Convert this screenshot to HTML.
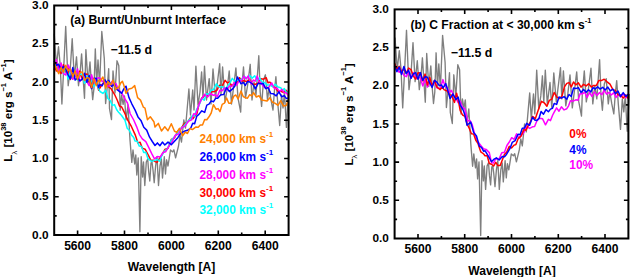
<!DOCTYPE html>
<html><head><meta charset="utf-8"><style>
html,body{margin:0;padding:0;background:#fff;width:630px;height:277px;overflow:hidden}
body{position:relative}
</style></head><body>
<svg width="630" height="277" viewBox="0 0 630 277" style="position:absolute;left:0;top:0">
<g font-family="Liberation Sans, sans-serif" font-weight="bold" font-size="11.3" fill="#000">
<g fill="none" stroke-linejoin="round" stroke-width="1.5">
<path d="M54.2 33.7 L56.4 65.8 L58.5 46.7 L60.2 65 L61.9 104 L63.8 66.3 L65.7 26.4 L68.2 85.7 L70.2 69.8 L72.2 38.7 L74.3 77.7 L76.5 56.8 L78.5 85.7 L80 74 L81.6 53.9 L83 76.8 L84.5 98.3 L85.9 49.6 L88 82.5 L90 62 L91.3 82.2 L92.7 99.6 L94 88.1 L95.3 48.9 L96.7 83.8 L98 60 L99.6 84.8 L101.8 31.5 L104.3 58.6 L105.6 103.6 L107.2 87.4 L108.7 68.7 L109.5 108.6 L111.5 119.6 L113 70.9 L115 93 L117 60.8 L118.8 65.8 L120.2 110.2 L121.6 95 L123.1 104.4 L124.5 96 L126 120 L128 105 L130 140 L131.8 162.4 L133 150 L134.7 164 L135.8 155 L136.8 175 L138.2 158 L139.9 231.7 L141.2 156.7 L142.6 177 L143.5 162 L144.8 185.5 L146.3 162 L147.7 159 L148.7 172 L149.8 181 L151 163 L152 162 L153 170 L154.2 182.7 L155.6 166 L157 156.7 L158.5 185.5 L160 166 L161.4 159 L162.5 178 L164.3 156.7 L165.5 174 L166.6 159.8 L168 166 L170.5 150 L172.6 151.9 L173.9 149.8 L175.6 157.9 L178.5 146 L180 135 L181.5 142 L183.8 120 L185.5 128 L188.9 89 L190.5 115 L192.7 90 L194 110 L195.9 66.2 L198 105 L200 92 L201.6 71.9 L203 98 L204.5 66.2 L206.5 100 L209.2 78.6 L211 104 L213 69 L215.5 98 L217 86 L219.7 63.7 L221 95 L222.6 67 L225 102 L227 90 L229.2 71 L231.5 104 L233.5 88 L235.9 68 L238 98 L240.7 112.1 L241.5 90 L243.5 67 L245.5 98 L247.5 86 L250.2 64.3 L252 100 L254 82 L256 95 L258.8 55.7 L260.2 92 L261.6 106.4 L263.5 80 L265.4 74.8 L267.5 100 L269 88 L271 100 L273 110 L274.5 90 L275.9 76.7 L277.5 100 L279.7 125.5 L281.5 95 L283 108 L284.5 92 L286.4 127.4 L288.5 90" stroke="#7f7f7f" stroke-width="1.35"/>
<path d="M54 64.4 L56.4 71 L58.7 65.8 L61.1 73.6 L63.4 64.7 L65.8 71.9 L68.1 68.5 L70.4 79.6 L72.8 73.3 L75.1 72.3 L77.5 78.1 L79.8 71.1 L82.2 79.6 L84.5 74.6 L86.9 74 L89.2 82.4 L91.6 88.4 L93.9 78.6 L96.3 80 L98.6 90.2 L102 84.5 L105 81.7 L106.8 81.9 L108.7 86.9 L111 88.6 L114.5 94.3 L117.3 100.2 L119.5 106.1 L121.7 107 L125 113.7 L127.9 120.4 L131.5 126.7 L135.1 134.6 L137.9 142.9 L140.1 142.3 L142.2 148.1 L145.1 149.2 L148 154.5 L150.9 160.4 L153.1 160.2 L155.2 161.6 L157 162.4 L158.8 159.5 L161.7 155.4 L164.8 149.5 L168 148.2 L171.3 139.5 L174.5 137.8 L177.8 131 L181 128.5 L184.3 123.8 L187.5 122.3 L190.8 117.2 L192.9 118.7 L195 115.9 L196.9 113.6 L198.9 104.6 L201.8 97.8 L204.7 95.6 L207.6 96.6 L209.8 92.5 L212 91.8 L215 91.4 L217.2 89.9 L219.3 85.3 L222.2 85.9 L225.1 80.3 L227.2 82.9 L229.4 81.9 L231.6 85.6 L233.8 84 L236.7 82.5 L239.5 77.7 L241.7 81 L243.9 80.8 L246.8 81.4 L249.7 79.7 L252.6 84.3 L255.4 84.2 L258.1 83.3 L260.8 78.7 L263.5 79.2 L266.2 77.7 L268 82.8 L269.9 82.1 L272.6 86.3 L275.3 87.8 L278 91.2 L280.7 91.2 L283.4 92.4 L286.1 90.2 L288.5 94.3" stroke="#ff0000"/>
<path d="M54 63.9 L56.4 66.9 L58.7 72.2 L61.1 68.6 L63.4 74 L65.8 67.7 L68.1 79.4 L70.4 71 L72.8 78.5 L75.1 73 L77.5 80 L79.8 74.1 L82.2 74.2 L84.5 83.2 L86.9 75.7 L89.2 80.4 L91.6 80.4 L93.9 86.3 L96.3 81.9 L98.6 88.6 L100 91.5 L102.9 93.4 L105.8 90.3 L107.9 98.5 L110.1 100.3 L112.3 105.4 L114.5 104.6 L116.7 109.8 L118.8 112.6 L121.6 115.5 L125 120.4 L127.2 128.2 L129.3 130.2 L131.5 134.9 L133.7 137.5 L135 140.9 L137.2 141.3 L139.3 146.1 L141.5 146.6 L143.7 152.6 L145.8 152.3 L148 158.7 L151.6 161.4 L155.2 160.1 L157.4 159.5 L159.6 161.1 L161.9 155.3 L164.3 151.3 L167.5 148.5 L170.8 141 L174 137.2 L177.3 133.4 L180.5 128.5 L183.8 126.1 L187 122.3 L190.3 118.8 L192.4 115.4 L194.5 116.1 L196.7 109.1 L198.9 105.8 L201.8 98.2 L204.2 100.3 L206.5 93.8 L208.9 94.5 L211.1 90.1 L213.2 90 L216.4 83.9 L219.3 87.3 L221.7 86.3 L224.2 88.7 L226.6 87.4 L229.4 83.9 L232.3 78.4 L235.2 81.6 L238.1 80.1 L241 79.8 L243.9 76.4 L246.8 78 L249.7 75.5 L252.2 78.1 L254.7 75.8 L257.2 80.4 L259.6 77.8 L262 82.4 L264.4 82.4 L267.1 84.9 L269.9 85 L272.6 86.7 L275.3 84.2 L278 87.1 L280.7 87.8 L282.5 90.2 L284.3 88.6 L286.4 92.5 L288.5 92.5" stroke="#00ffff"/>
<path d="M54 70.2 L56.4 59.6 L58.7 71.4 L61.1 63 L63.4 73.6 L65.8 75 L68.1 64.9 L70.4 69.6 L72.8 79.2 L75.1 76.7 L77.5 68.7 L79.8 81.5 L82.2 78.6 L84.5 75.8 L86.9 81.6 L89.2 85.7 L91.6 74.8 L93.9 83.5 L96.3 78.4 L98.6 77.8 L100 78.2 L102.2 81.7 L104.3 80 L106.2 85.9 L108 86.1 L110 85.7 L112 81.2 L114 85.6 L115.9 83.6 L118.8 90.4 L121.7 92.8 L124.6 98.3 L127.5 103 L130.1 113.5 L133.7 120 L136.6 126.6 L139.5 134.6 L142.3 138.8 L145.8 141.6 L148.7 147.4 L151.6 153.3 L154.5 158.8 L157.4 156.6 L160.3 156.9 L163 152.5 L165.6 151.8 L168.8 146.3 L172.1 141.8 L175.3 135.2 L178.6 134 L181.8 127.6 L185.1 126.1 L188.3 121.2 L191.6 119.9 L193.7 113.7 L195.8 114.3 L198.9 104.6 L201.8 98.5 L204.7 94.2 L207.6 97 L210.5 93.5 L213.4 95.3 L215 94.8 L217.4 96.6 L219.8 90.2 L222.2 90.7 L224.6 87.8 L227 89.9 L229.4 86 L231.8 86.6 L234.3 82.6 L236.7 85.1 L239.1 80.6 L241.5 80.7 L243.9 76.2 L246.1 79 L248.2 75.9 L251.1 84 L253.1 80 L255.2 81.2 L257.2 75.9 L259 81.7 L260.8 82.5 L263.5 86.5 L266.2 87.9 L268.9 87.1 L271.7 82.8 L274.4 88.5 L277.1 88.2 L279.5 91.7 L281.9 89.4 L284.3 92.7 L286.4 92.8 L288.5 96.1" stroke="#ff00ff"/>
<path d="M54 61 L56.4 65.3 L58.7 64.2 L61.1 69.8 L63.4 66.4 L65.8 69.2 L68.1 74.9 L70.4 78.9 L72.8 67.6 L75.1 80.1 L77.5 77.8 L79.8 80.8 L82.2 79.3 L84.5 73.3 L86.9 82.2 L89.2 75.5 L91.6 88.6 L93.9 78.4 L96.3 78.2 L98.6 87.5 L100 84.6 L102.2 85.8 L105 79.9 L106.8 82.7 L108.7 80.4 L111.6 86.3 L114.5 84.2 L116.7 89.3 L118.8 90.9 L121.7 93.3 L123.8 88.9 L126 86.2 L128.9 97.4 L131.8 103.8 L135.1 110.1 L138 116.9 L140.9 120.4 L143.8 127.3 L146.7 130.1 L149.6 137.2 L152.3 141.5 L155 145.5 L157.4 142.9 L159.9 145.7 L162.4 142.1 L164.8 145 L168 142.1 L171.3 144.7 L174.5 141.3 L177.8 137.7 L181 132.9 L184.3 131.3 L187.5 130.3 L190.8 128 L192.7 123.3 L194.6 123.7 L196.8 116.1 L198.9 114.4 L201.8 110.8 L204.7 112.4 L206.8 105.1 L209 104.1 L211.2 100.9 L213.4 101.8 L215.6 98.3 L217.7 98.2 L220.8 94.8 L223.7 94.5 L226.6 87.7 L229.4 91.6 L232.3 89.2 L234.9 86 L237.4 76.9 L241 83.8 L243.2 82.4 L245.3 85.4 L247.5 81.5 L249.7 82 L252.6 84 L255.4 88.9 L258.1 83.3 L260.8 83.7 L263.2 83.4 L265.6 88.6 L268 87.5 L270.8 93.5 L273.5 93.8 L276.2 95.9 L278.9 91.8 L281.6 96.7 L284.3 95.7 L286.4 98.6 L288.5 97.9" stroke="#0000ff"/>
<path d="M54 62.9 L56.4 68.4 L58.7 73.6 L61.1 67.6 L63.4 72.2 L65.8 65.2 L68.1 70.6 L70.4 69.1 L72.8 76.8 L75.1 70.9 L77.5 79.4 L79.8 72.6 L82.2 71.9 L84.5 80.5 L86.9 77.4 L89.2 78.2 L91.6 87.6 L93.9 78.6 L96.3 85.8 L98.6 80.2 L100 81.3 L102.9 77 L105.8 88 L107.9 81.4 L110.8 84.8 L113 80.2 L115.9 89.2 L118.8 87.1 L120.6 83.1 L122.4 81.3 L123.8 85 L126 93.3 L128.9 88.9 L131.8 88.2 L134.7 85.6 L137.6 97.7 L140.5 100.1 L143.4 107.2 L145 108.1 L147.4 119.7 L150.3 116.8 L153.9 121.7 L155 127 L158.3 123.4 L161.5 131 L164.8 126.8 L168 130.7 L171.3 123.8 L174.5 131.2 L176.9 132.3 L179.4 128.3 L182.6 135.8 L185.1 132.2 L187.5 133.5 L189.9 128.5 L192.4 129.6 L196 126.9 L198.2 127.3 L200.3 124.9 L202.5 125.1 L204.7 119.5 L206.8 119.7 L209 116.8 L211.2 113 L213.4 104.7 L216.2 109.3 L218.1 108.6 L220 111.6 L222.2 104.4 L224.4 103.2 L226.6 98 L228.8 103.2 L230.9 103.2 L233.8 96.1 L235.9 95 L238.1 99 L241 91.1 L243.2 96.5 L245.3 97.7 L247.5 98.2 L249.7 94.7 L251.6 95.8 L253.6 92.6 L256.3 97 L259 95.7 L261.7 100 L264.4 100.4 L267.1 101 L269.9 97.8 L272.6 102.3 L275.3 103.4 L278 105.3 L280.7 100.7 L283.4 105.9 L286.1 105.6 L288.5 100" stroke="#ff7f00"/>
<path d="M395 37.6 L397.2 69.7 L399.3 50.6 L401 68.9 L402.7 107.9 L404.6 70.2 L406.5 30.3 L409 89.6 L411 73.7 L413 42.6 L415.1 81.6 L417.3 60.7 L419.3 89.6 L420.9 77.9 L422.4 57.8 L423.9 80.7 L425.3 102.2 L426.7 53.5 L428.8 86.4 L430.8 65.9 L432.1 86.1 L433.5 103.5 L434.8 92 L436.1 52.8 L437.5 87.7 L438.8 63.9 L440.4 88.7 L442.6 35.4 L445.1 62.5 L446.4 107.5 L448 91.3 L449.5 72.6 L450.3 112.5 L452.3 123.5 L453.8 74.8 L455.8 96.9 L457.8 64.7 L459.6 69.7 L461 114.1 L462.4 98.9 L463.9 108.3 L465.3 99.9 L466.8 123.9 L468.8 108.9 L470.8 143.9 L472.6 166.3 L473.8 153.9 L475.5 167.9 L476.6 158.9 L477.6 178.9 L479 161.9 L480.7 235.6 L482 160.6 L483.4 180.9 L484.3 165.9 L485.6 189.4 L487.1 165.9 L488.5 162.9 L489.5 175.9 L490.6 184.9 L491.8 166.9 L492.8 165.9 L493.8 173.9 L495 186.6 L496.4 169.9 L497.8 160.6 L499.3 189.4 L500.8 169.9 L502.2 162.9 L503.3 181.9 L505.1 160.6 L506.3 177.9 L507.4 163.7 L508.8 169.9 L511.3 153.9 L513.4 155.8 L514.7 153.7 L516.4 161.8 L519.3 149.9 L520.8 138.9 L522.3 145.9 L524.6 123.9 L526.3 131.9 L529.7 92.9 L531.3 118.9 L533.5 93.9 L534.8 113.9 L536.7 70.1 L538.8 108.9 L540.8 95.9 L542.4 75.8 L543.8 101.9 L545.3 70.1 L547.3 103.9 L550 82.5 L551.8 107.9 L553.8 72.9 L556.3 101.9 L557.8 89.9 L560.5 67.6 L561.8 98.9 L563.4 70.9 L565.8 105.9 L567.8 93.9 L570 74.9 L572.3 107.9 L574.3 91.9 L576.7 71.9 L578.8 101.9 L581.5 116 L582.3 93.9 L584.3 70.9 L586.3 101.9 L588.3 89.9 L591 68.2 L592.8 103.9 L594.8 85.9 L596.8 98.9 L599.6 59.6 L601 95.9 L602.4 110.3 L604.3 83.9 L606.2 78.7 L608.3 103.9 L609.8 91.9 L611.8 103.9 L613.8 113.9 L615.3 93.9 L616.7 80.6 L618.3 103.9 L620.5 129.4 L622.3 98.9 L623.8 111.9 L625.3 95.9 L627.2 131.3 L629.3 93.9" stroke="#7f7f7f" stroke-width="1.35"/>
<path d="M394.5 65.5 L396.9 68.5 L399.2 72.3 L401.6 70.6 L403.9 75.3 L406.3 76.6 L408.6 72.3 L411 77.9 L413.3 72.7 L415.7 78.8 L418 77.6 L420.4 77.8 L422.7 85.9 L425.1 79.4 L427.4 87.1 L429.8 81.5 L432.1 86 L434.5 80.7 L436.8 87.7 L440.2 88.7 L442.9 79.6 L445 86.2 L447.2 87.5 L449.4 92.4 L451.5 90.4 L453.7 96.1 L455.9 97.8 L458.1 102.8 L460.2 101.1 L462.4 107.4 L464.6 108.4 L467.8 121 L470 120.5 L472.1 124.4 L475 135.3 L477.9 141.8 L480.8 145.5 L483.5 148.8 L486.1 149.4 L489.3 152.6 L491.5 162.7 L493.6 162.9 L495.8 158.7 L499.1 158.9 L501.8 152.7 L504.5 152.2 L506.9 145.5 L509.3 142 L511.7 137.7 L514.2 139.3 L516.6 133.9 L518.8 138.1 L520.9 136 L523.8 132.4 L526.7 126.2 L529.6 128.4 L532.5 126.8 L534.6 126.5 L536.8 121 L539.7 118.2 L542.6 118.8 L545.5 124.8 L548.4 119.3 L550.5 120.6 L552.7 115 L554.2 112.2 L556.6 107.9 L559 111.2 L561.4 106.8 L564.1 109.9 L566.8 108.7 L568.6 105.8 L570.4 100.7 L573.1 101.2 L575.8 99.8 L578 100.2 L580.2 93.5 L582.4 93.9 L584.8 92.2 L587.1 97.5 L589.5 92.5 L591.9 96.3 L594.4 91.9 L597 95.4 L599.5 92.6 L601.9 94.7 L604.2 90 L606.6 94.1 L609 92.4 L611.3 95 L613.6 92.7 L615.9 97.5 L618.2 94.3 L620.5 96.9 L623.2 94 L625.8 97.8 L628.5 96" stroke="#ff00ff"/>
<path d="M394.5 63.1 L396.9 69.1 L399.2 66.4 L401.6 71.9 L403.9 69 L406.3 73.3 L408.6 68.1 L411 69.6 L413.3 76.1 L415.7 79.1 L418 72.8 L420.4 73.1 L422.7 80.7 L425.1 74.1 L427.4 85 L429.8 77.5 L432.1 86.4 L434.5 80.5 L436.8 87 L440.2 89.6 L442.2 87.1 L444.3 89.9 L447.2 91 L449.4 94.7 L451.6 95.3 L454.5 102.4 L456.6 93.2 L458.8 102.9 L460.2 110.6 L462.6 115 L465 116.3 L467.1 124.1 L469.2 128.2 L471.4 133.7 L473.6 133.9 L475.8 140.3 L477.9 143.2 L480.8 151.9 L483.7 154 L485 155.7 L487.2 155.8 L489.3 163.5 L491.5 164.2 L493.6 166 L495.8 162.4 L498 165.6 L500.2 165.5 L502.3 160 L504.5 154.2 L506.6 152.4 L509.3 146.4 L511.5 147.9 L513.7 145.4 L515.9 144.5 L518 138.9 L520.9 136.1 L523.8 129.6 L526 130.2 L528.1 125.9 L530.3 122.2 L532.5 116.4 L535.3 118.7 L538.2 110.3 L541.5 101.3 L544.2 102.8 L546.9 106.3 L549.3 100.4 L551.8 99.1 L554.2 92.5 L556.9 97.2 L559.6 98.6 L562 96.1 L564.4 86.9 L566.8 83.4 L569 82.6 L571.3 86.9 L573.5 82 L575.8 84.9 L578.4 82.8 L581 87.2 L583.6 84.3 L586.2 85.9 L588.7 83.7 L591.3 87 L593.8 85.4 L596.3 85.5 L598.9 80.4 L601.4 80.6 L604.2 79.2 L607.1 81.8 L610 84.2 L612.9 89.6 L615.4 90.4 L618 94.8 L620.5 95 L623.2 98.1 L625.8 94.9 L628.5 98.8" stroke="#ff0000"/>
<path d="M394.5 65.8 L396.9 71.7 L399.2 67.2 L401.6 74.4 L403.9 66.5 L406.3 73.7 L408.6 70.1 L411 78.4 L413.3 74 L415.7 72.7 L418 79.3 L420.4 72.6 L422.7 80.3 L425.1 76.7 L427.4 77.2 L429.8 83.2 L432.1 87.5 L434.5 80.3 L436.8 82.1 L439.3 85.6 L441.7 85.1 L442.9 88 L445.8 83.6 L448.7 93.6 L450.1 98.5 L453 93.9 L455.9 99.6 L458.1 97 L460.2 105.1 L463.1 109.8 L464.9 115.1 L467.1 125.3 L470.7 122 L473.6 132.4 L476.5 136 L479.3 146.1 L481.5 147.4 L483.7 151.4 L485 150.7 L488.2 155.9 L491.5 161.7 L493.7 159.4 L496.4 157.8 L499.1 160 L502.3 156.5 L504.5 156.8 L506.6 154.2 L509.9 148.7 L512.2 142.4 L515.1 140.7 L518 134.3 L520.1 134.7 L522.3 128.2 L524.5 127.9 L526.7 123.4 L529.6 125.3 L532.5 117.2 L534.6 119.9 L536.8 120.4 L539 118.3 L541.1 111.5 L543.5 114.2 L546 109.6 L548.4 111.7 L550.5 109.1 L552.4 108.4 L554.2 103.4 L556.6 104.4 L559 97 L561.4 98.1 L564.1 96.6 L566.8 99.2 L569 94.5 L571.3 96.4 L573.5 88.1 L575.8 88.6 L578.4 87.6 L581 92.5 L583.6 89.4 L586.2 92.3 L588.5 89.7 L590.8 91.9 L593 87.7 L595.3 89 L597.6 86.8 L600.1 89.1 L602.7 87.3 L605.2 90 L607.8 87.1 L610.3 90.9 L612.9 89.2 L615.4 93.7 L618 91 L620.5 96.5 L623.2 92.6 L625.8 96.4 L628.5 94.1" stroke="#0000ff"/>
</g>
<rect x="54.2" y="5.5" width="234.4" height="229.5" fill="none" stroke="#000" stroke-width="2"/>
<path d="M77.6 235v-4.5M77.6 5.5v4.5M101.1 235v-2.5M101.1 5.5v2.5M124.5 235v-4.5M124.5 5.5v4.5M148 235v-2.5M148 5.5v2.5M171.4 235v-4.5M171.4 5.5v4.5M194.8 235v-2.5M194.8 5.5v2.5M218.3 235v-4.5M218.3 5.5v4.5M241.7 235v-2.5M241.7 5.5v2.5M265.2 235v-4.5M265.2 5.5v4.5M54.2 215.9h2.5M288.6 215.9h-2.5M54.2 196.8h4.5M288.6 196.8h-4.5M54.2 177.6h2.5M288.6 177.6h-2.5M54.2 158.5h4.5M288.6 158.5h-4.5M54.2 139.4h2.5M288.6 139.4h-2.5M54.2 120.2h4.5M288.6 120.2h-4.5M54.2 101.1h2.5M288.6 101.1h-2.5M54.2 82h4.5M288.6 82h-4.5M54.2 62.9h2.5M288.6 62.9h-2.5M54.2 43.8h4.5M288.6 43.8h-4.5M54.2 24.6h2.5M288.6 24.6h-2.5" stroke="#000" stroke-width="1.6" fill="none"/>
<rect x="394.6" y="9.4" width="233.8" height="229.1" fill="none" stroke="#000" stroke-width="2"/>
<path d="M418 238.5v-4.5M418 9.4v4.5M441.4 238.5v-2.5M441.4 9.4v2.5M464.7 238.5v-4.5M464.7 9.4v4.5M488.1 238.5v-2.5M488.1 9.4v2.5M511.5 238.5v-4.5M511.5 9.4v4.5M534.9 238.5v-2.5M534.9 9.4v2.5M558.3 238.5v-4.5M558.3 9.4v4.5M581.6 238.5v-2.5M581.6 9.4v2.5M605 238.5v-4.5M605 9.4v4.5M394.6 219.4h2.5M628.4 219.4h-2.5M394.6 200.3h4.5M628.4 200.3h-4.5M394.6 181.2h2.5M628.4 181.2h-2.5M394.6 162.1h4.5M628.4 162.1h-4.5M394.6 143h2.5M628.4 143h-2.5M394.6 124h4.5M628.4 124h-4.5M394.6 104.9h2.5M628.4 104.9h-2.5M394.6 85.8h4.5M628.4 85.8h-4.5M394.6 66.7h2.5M628.4 66.7h-2.5M394.6 47.6h4.5M628.4 47.6h-4.5M394.6 28.5h2.5M628.4 28.5h-2.5" stroke="#000" stroke-width="1.6" fill="none"/>
<text x="77.6" y="249.8" text-anchor="middle" font-size="12.1">5600</text>
<text x="124.5" y="249.8" text-anchor="middle" font-size="12.1">5800</text>
<text x="171.4" y="249.8" text-anchor="middle" font-size="12.1">6000</text>
<text x="218.3" y="249.8" text-anchor="middle" font-size="12.1">6200</text>
<text x="265.2" y="249.8" text-anchor="middle" font-size="12.1">6400</text>
<text x="48.5" y="238.6" text-anchor="end" font-size="11.8">0.0</text>
<text x="48.5" y="200.3" text-anchor="end" font-size="11.8">0.5</text>
<text x="48.5" y="162.1" text-anchor="end" font-size="11.8">1.0</text>
<text x="48.5" y="123.8" text-anchor="end" font-size="11.8">1.5</text>
<text x="48.5" y="85.6" text-anchor="end" font-size="11.8">2.0</text>
<text x="48.5" y="47.4" text-anchor="end" font-size="11.8">2.5</text>
<text x="48.5" y="9.1" text-anchor="end" font-size="11.8">3.0</text>
<text x="418" y="253.3" text-anchor="middle" font-size="12.1">5600</text>
<text x="464.7" y="253.3" text-anchor="middle" font-size="12.1">5800</text>
<text x="511.5" y="253.3" text-anchor="middle" font-size="12.1">6000</text>
<text x="558.3" y="253.3" text-anchor="middle" font-size="12.1">6200</text>
<text x="605" y="253.3" text-anchor="middle" font-size="12.1">6400</text>
<text x="388.9" y="242.1" text-anchor="end" font-size="11.8">0.0</text>
<text x="388.9" y="203.9" text-anchor="end" font-size="11.8">0.5</text>
<text x="388.9" y="165.7" text-anchor="end" font-size="11.8">1.0</text>
<text x="388.9" y="127.5" text-anchor="end" font-size="11.8">1.5</text>
<text x="388.9" y="89.4" text-anchor="end" font-size="11.8">2.0</text>
<text x="388.9" y="51.2" text-anchor="end" font-size="11.8">2.5</text>
<text x="388.9" y="13" text-anchor="end" font-size="11.8">3.0</text>
<text x="70.2" y="23.8" font-size="12.2">(a) Burnt/Unburnt Interface</text>
<text x="410.4" y="29.4" font-size="12.1">(b) C Fraction at &lt; 30,000 km s<tspan dy="-6.3" font-size="7.5">-1</tspan></text>
<text x="110.6" y="53.8" font-size="12.3">−11.5 d</text>
<text x="450.8" y="57.1" font-size="12.3">−11.5 d</text>
<text x="127.8" y="271.4" font-size="12.1">Wavelength [A]</text>
<text x="468.2" y="275.1" font-size="12.1">Wavelength [A]</text>
<text transform="translate(12,110.5) rotate(-90)" text-anchor="middle" font-size="11.6">L<tspan dy="4.5" font-size="7.5" font-weight="normal">λ</tspan><tspan dy="-4.5"> [10</tspan><tspan dy="-6.5" font-size="7.5">38</tspan><tspan dy="6.5"> erg s</tspan><tspan dy="-6.5" font-size="7.5">−1</tspan><tspan dy="6.5"> A</tspan><tspan dy="-6.5" font-size="7.5">−1</tspan><tspan dy="6.5">]</tspan></text>
<text transform="translate(352.7,114.4) rotate(-90)" text-anchor="middle" font-size="11.6">L<tspan dy="4.5" font-size="7.5" font-weight="normal">λ</tspan><tspan dy="-4.5"> [10</tspan><tspan dy="-6.5" font-size="7.5">38</tspan><tspan dy="6.5"> erg s</tspan><tspan dy="-6.5" font-size="7.5">−1</tspan><tspan dy="6.5"> A</tspan><tspan dy="-6.5" font-size="7.5">−1</tspan><tspan dy="6.5">]</tspan></text>
<text x="199.5" y="143.3" fill="#ff7f00" font-size="11.85">24,000 km s<tspan dy="-6" font-size="8">-1</tspan></text>
<text x="199.5" y="161.0" fill="#0000ff" font-size="11.85">26,000 km s<tspan dy="-6" font-size="8">-1</tspan></text>
<text x="199.5" y="178.9" fill="#ff00ff" font-size="11.85">28,000 km s<tspan dy="-6" font-size="8">-1</tspan></text>
<text x="199.5" y="196.70000000000002" fill="#ff0000" font-size="11.85">30,000 km s<tspan dy="-6" font-size="8">-1</tspan></text>
<text x="199.5" y="214.20000000000002" fill="#00ffff" font-size="11.85">32,000 km s<tspan dy="-6" font-size="8">-1</tspan></text>
<text x="569.3" y="138.3" fill="#ff0000" font-size="11.9">0%</text>
<text x="569.3" y="153.6" fill="#0000ff" font-size="11.9">4%</text>
<text x="569.3" y="168.7" fill="#ff00ff" font-size="11.9">10%</text>
</g></svg>
</body></html>
